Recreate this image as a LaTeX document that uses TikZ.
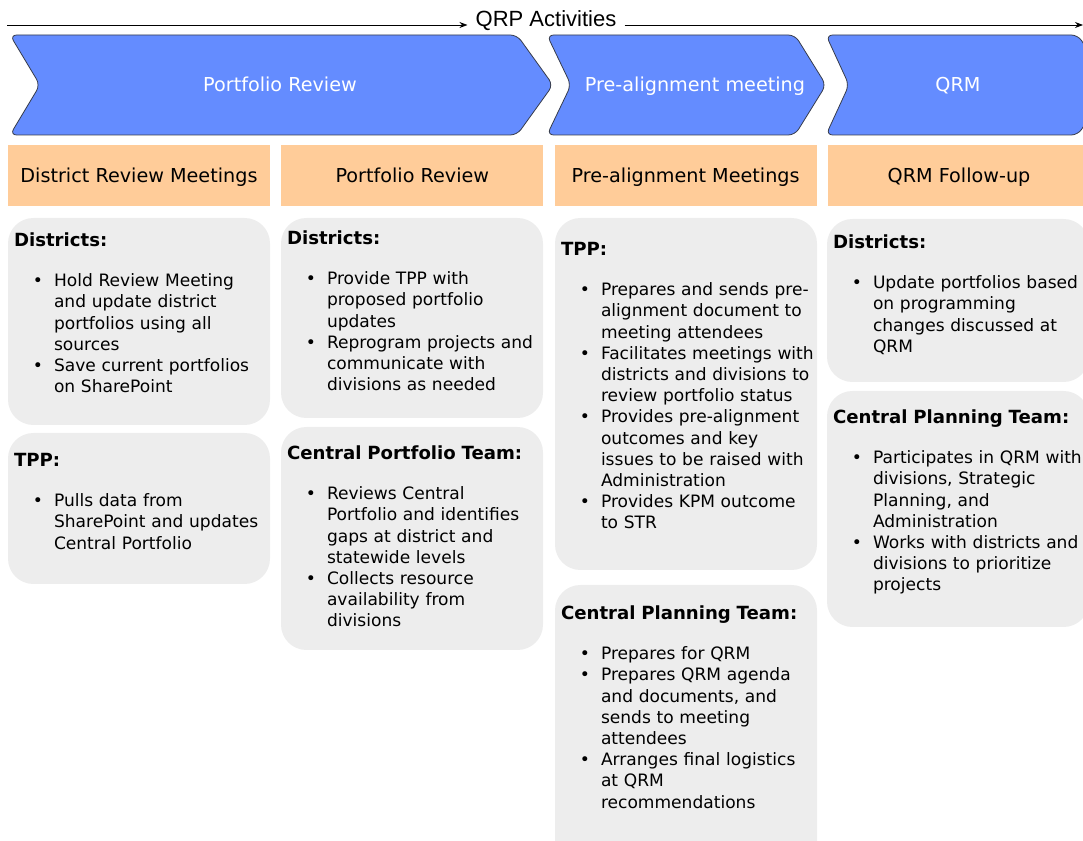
\documentclass[tikz,border=0pt]{standalone}
\usepackage{fontspec}
\setmainfont{DejaVu Sans}
\newfontfamily\titlefont{Liberation Sans}
\usepackage{enumitem}
\setlist[itemize]{label=\textbullet, leftmargin=30pt, labelsep=8.3pt, topsep=14.1pt, partopsep=0pt, itemsep=0pt, parsep=0pt}
\usepackage{xcolor}
\usetikzlibrary{arrows.meta, positioning}
\definecolor{chevblue}{RGB}{100,140,255}
\definecolor{chevline}{RGB}{55,60,75}
\definecolor{hdrorange}{RGB}{255,204,153}
\definecolor{boxgrey}{RGB}{237,237,237}
\newcommand{\boxhead}[1]{{\fontsize{13.6}{15.9}\selectfont\textbf{#1}}\par}

\begin{document}
\begin{tikzpicture}[x=0.75pt, y=-0.75pt, node distance=205pt, on grid,
        >={Stealth[length=6pt, width=4.5pt]},
        chev/.style={fill=chevblue, draw=chevline, line width=0.6pt, rounded corners=5pt},
        chevtext/.style={text=white, inner sep=0pt, text height=10.5pt, text depth=0pt, font=\fontsize{14.4}{17}\selectfont},
        hdr/.style={fill=hdrorange, minimum width=196.5pt, minimum height=45.75pt, inner sep=0pt, text height=10.5pt, text depth=0pt, font=\fontsize{14.4}{17}\selectfont},
        box/.style={fill=boxgrey, rounded corners=19pt, minimum width=196.5pt, inner sep=0pt},
        txt/.style={anchor=base west, inner sep=0pt, text width=240pt, align=left, font=\fontsize{12.8}{15.9}\selectfont}]
                \useasboundingbox (0,0) rectangle (1083,841);

                \node[font=\titlefont\fontsize{16.5}{20}\selectfont, inner xsep=6pt, inner ysep=0pt, anchor=base] (title) at (546,27) {QRP Activities};
                \coordinate (l_0) at (7,25);
                \coordinate (l_1) at (1083,25);
                \draw[->, line width=0.6pt] (l_0) -- (l_0 -| title.west);
                \draw[->, line width=0.6pt] (l_1 -| title.east) -- (l_1);

                \draw[chev] (10,35) -- (517,35) -- (553,85) -- (517,135) -- (10,135) -- (40,85) -- cycle;
                \draw[chev] (547,35) -- (795,35) -- (826,85) -- (795,135) -- (547,135) -- (571,85) -- cycle;
                \draw[chev] (826,35) -- (1078,35) -- (1110,85) -- (1078,135) -- (826,135) -- (849,85) -- cycle;
                \node[chevtext] (c_1) at (280,85) {Portfolio Review};
                \node[chevtext] (c_2) at (695,85) {Pre-alignment meeting};
                \node[chevtext] (c_3) at (958,85) {QRM};

                \node[hdr] (h_1) at (139,175.5) {District Review Meetings};
                \node[hdr, right=of h_1] (h_2) {Portfolio Review};
                \node[hdr, right=of h_2] (h_3) {Pre-alignment Meetings};
                \node[hdr, right=of h_3] (h_4) {QRM Follow-up};

                \node[box, minimum height=155.25pt] (b_1a) at (139,321.5) {};
                \node[box, minimum height=113.25pt] (b_1b) at (139,508.5) {};
                \node[box, minimum height=150pt] (b_2a) at (412,318) {};
                \node[box, minimum height=167.25pt] (b_2b) at (412,538.5) {};
                \node[box, minimum height=264pt] (b_3a) at (686,394) {};
                \node[box, minimum height=213.75pt] (b_3b) at (686,727.5) {};
                \node[box, minimum height=122.25pt] (b_4a) at (958,300.5) {};
                \node[box, minimum height=177pt] (b_4b) at (958,509) {};

                \node[txt] (t_1a) at ([shift={(6,29)}]b_1a.north west) {\boxhead{Districts:}
                \begin{itemize}
                \item Hold Review Meeting\\and update district\\portfolios using all\\sources
                \item Save current portfolios\\on SharePoint
                \end{itemize}};
                \node[txt] (t_1b) at ([shift={(6,34)}]b_1b.north west) {\boxhead{TPP:}
                \begin{itemize}
                \item Pulls data from\\SharePoint and updates\\Central Portfolio
                \end{itemize}};
                \node[txt] (t_2a) at ([shift={(6,27)}]b_2a.north west) {\boxhead{Districts:}
                \begin{itemize}
                \item Provide TPP with\\proposed portfolio\\updates
                \item Reprogram projects and\\communicate with\\divisions as needed
                \end{itemize}};
                \node[txt] (t_2b) at ([shift={(6,33)}]b_2b.north west) {\boxhead{Central Portfolio Team:}
                \begin{itemize}
                \item Reviews Central\\Portfolio and identifies\\gaps at district and\\statewide levels
                \item Collects resource\\availability from\\divisions
                \end{itemize}};
                \node[txt] (t_3a) at ([shift={(6,38)}]b_3a.north west) {\boxhead{TPP:}
                \begin{itemize}
                \item Prepares and sends pre-\\alignment document to\\meeting attendees
                \item Facilitates meetings with\\districts and divisions to\\review portfolio status
                \item Provides pre-alignment\\outcomes and key\\issues to be raised with\\Administration
                \item Provides KPM outcome\\to STR
                \end{itemize}};
                \node[txt] (t_3b) at ([shift={(6,35)}]b_3b.north west) {\boxhead{Central Planning Team:}
                \begin{itemize}
                \item Prepares for QRM
                \item Prepares QRM agenda\\and documents, and\\sends to meeting\\attendees
                \item Arranges final logistics\\at QRM\\recommendations
                \end{itemize}};
                \node[txt] (t_4a) at ([shift={(6,30)}]b_4a.north west) {\boxhead{Districts:}
                \begin{itemize}
                \item Update portfolios based\\on programming\\changes discussed at\\QRM
                \end{itemize}};
                \node[txt] (t_4b) at ([shift={(6,33)}]b_4b.north west) {\boxhead{Central Planning Team:}
                \begin{itemize}
                \item Participates in QRM with\\divisions, Strategic\\Planning, and\\Administration
                \item Works with districts and\\divisions to prioritize\\projects
                \end{itemize}};
            \end{tikzpicture}
\end{document}
